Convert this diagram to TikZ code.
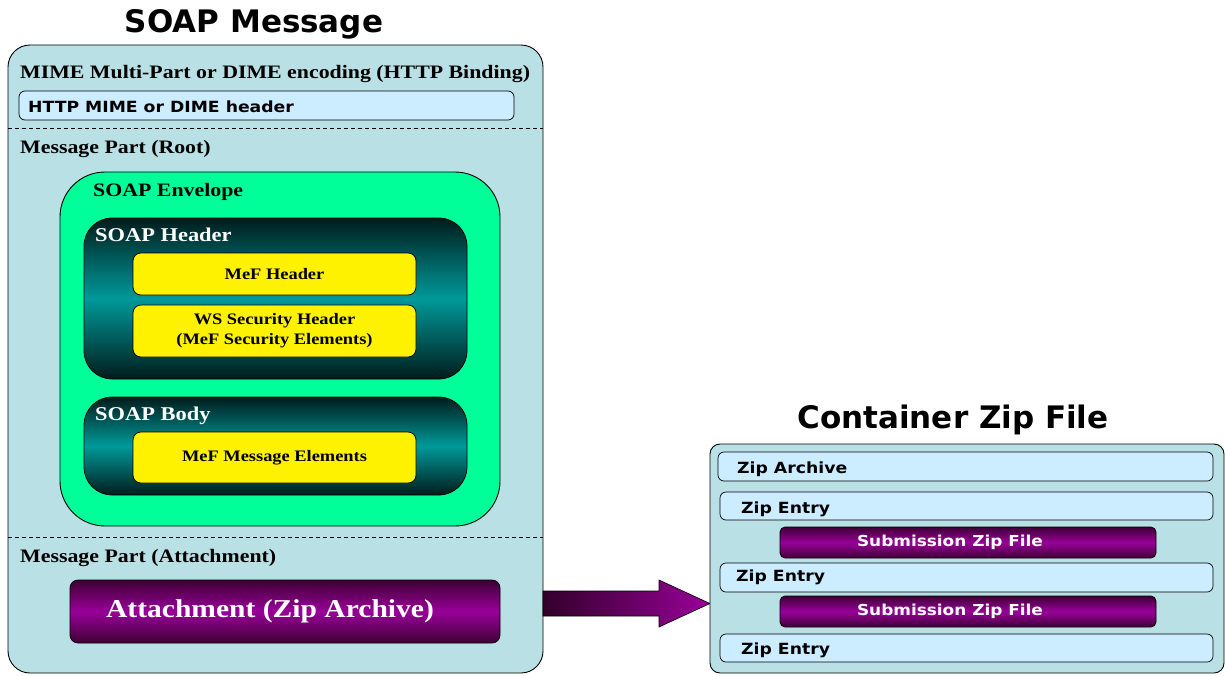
\documentclass[tikz,border=0pt]{standalone}
\usepackage{fontspec}
\setmainfont{Liberation Serif}[FakeStretch=1.15]
\setsansfont{DejaVu Sans}
\newfontfamily\smallsans{DejaVu Sans}[FakeStretch=1.12]
\definecolor{paleteal}{RGB}{185,224,228}
\definecolor{paleblue}{RGB}{204,236,255}
\definecolor{envgreen}{RGB}{0,255,153}
\definecolor{teal}{RGB}{0,153,153}
\definecolor{darkteal}{RGB}{0,28,28}
\definecolor{purp}{RGB}{153,0,153}
\definecolor{darkpurp}{RGB}{62,0,52}
\tikzset{
  outerbox/.style={draw=black, line width=0.9pt, fill=paleteal, rounded corners=22pt, inner sep=0pt},
  bluebar/.style={draw=black, line width=0.7pt, fill=paleblue, rounded corners=6pt, inner sep=0pt},
  envbox/.style={draw=black, line width=0.9pt, fill=envgreen, rounded corners=45pt, inner sep=0pt},
  tealbox/.style={draw=black, line width=0.7pt, top color=darkteal, bottom color=darkteal, middle color=teal, rounded corners=28pt, inner sep=0pt},
  yellowbox/.style={draw=black, line width=0.7pt, fill=yellow, rounded corners=8pt, inner sep=0pt, align=center, font=\fontsize{16}{20}\selectfont\bfseries},
  purpbox/.style={draw=black, line width=0.7pt, top color=darkpurp, bottom color=darkpurp, middle color=purp, rounded corners=8pt, inner sep=0pt, text=white},
  seriflabel/.style={anchor=base west, inner sep=0pt, font=\fontsize{19}{22}\selectfont\bfseries},
  whitelabel/.style={anchor=base west, inner sep=0pt, text=white, font=\fontsize{19.5}{22}\selectfont\bfseries},
  sanslabel/.style={anchor=west, inner sep=0pt, font=\smallsans\bfseries\fontsize{15.4}{18}\selectfont},
  titlelabel/.style={inner sep=0pt, font=\sffamily\bfseries\fontsize{31}{36}\selectfont},
  divider/.style={dashed, line width=0.8pt, dash pattern=on 4pt off 3pt},
}
\begin{document}
\begin{tikzpicture}[x=1pt,y=-1pt]
\useasboundingbox (0,0) rectangle (1225,675);
% ---------- left: SOAP message ----------
\node[titlelabel] (t1) at (254,24) {SOAP Message};
\node[outerbox, minimum width=535pt, minimum height=628pt] (outer) at (275.5,359) {};
\node[seriflabel] (mime) at (20,78) {MIME Multi-Part or DIME encoding (HTTP Binding)};
\node[bluebar, minimum width=495pt, minimum height=29pt] (http) at (266.5,105.5) {};
\node[sanslabel] (httpt) at (28,107) {HTTP MIME or DIME header};
\coordinate (d1a) at (8,128);
\coordinate (d1b) at (543,128);
\draw[divider] (d1a) -- (d1b);
\node[seriflabel] (root) at (20,153) {Message Part (Root)};
\node[envbox, minimum width=440pt, minimum height=354pt] (env) at (280,349) {};
\node[seriflabel] (envt) at (93,196) {SOAP Envelope};
\node[tealbox, minimum width=383pt, minimum height=161pt] (sh) at (275.5,298.5) {};
\node[whitelabel] (sht) at (95,241) {SOAP Header};
\node[yellowbox, minimum width=283pt, minimum height=42pt] (mefh) at (274.5,274) {MeF Header};
\node[yellowbox, minimum width=283pt, minimum height=52pt] (wss) at (274.5,331) {WS Security Header\\(MeF Security Elements)};
\node[tealbox, minimum width=383pt, minimum height=98pt] (sb) at (275.5,446) {};
\node[whitelabel] (sbt) at (95,420) {SOAP Body};
\node[yellowbox, minimum width=283pt, minimum height=51pt] (mefm) at (274.5,457.5) {MeF Message Elements};
\coordinate (d2a) at (8,537);
\coordinate (d2b) at (543,537);
\draw[divider] (d2a) -- (d2b);
\node[seriflabel] (att) at (20,562) {Message Part (Attachment)};
\node[purpbox, minimum width=430pt, minimum height=63pt, font=\fontsize{25.7}{30}\selectfont\bfseries] (attb) at (285,611.5) {\hspace*{-30pt}Attachment (Zip Archive)};
% ---------- arrow ----------
\coordinate (a0) at (543,591);
\coordinate (a1) at (659,591);
\coordinate (a2) at (659,580);
\coordinate (a3) at (710,603.5);
\coordinate (a4) at (659,627);
\coordinate (a5) at (659,616);
\coordinate (a6) at (543,616);
\draw[line width=0.6pt, left color=darkpurp!80!black, right color=purp] (a0) -- (a1) -- (a2) -- (a3) -- (a4) -- (a5) -- (a6) -- cycle;
% ---------- right: container zip ----------
\node[titlelabel] (t2) at (953,420) {Container Zip File};
\node[outerbox, rounded corners=10pt, minimum width=514pt, minimum height=229pt] (zip) at (967,558.5) {};
\node[bluebar, minimum width=495pt, minimum height=29pt] (za) at (965.5,466.5) {};
\node[sanslabel] (zat) at (737,469) {Zip Archive};
\node[bluebar, minimum width=493pt, minimum height=28pt] (ze1) at (966.5,506) {};
\node[sanslabel] (ze1t) at (741,509) {Zip Entry};
\node[purpbox, minimum width=376pt, minimum height=31pt, rounded corners=5pt, font=\smallsans\bfseries\fontsize{15.1}{17}\selectfont] (s1) at (968,542.5) {\hspace*{-36pt}Submission Zip File};
\node[bluebar, minimum width=493pt, minimum height=29pt] (ze2) at (966.5,577.5) {};
\node[sanslabel] (ze2t) at (736,577.5) {Zip Entry};
\node[purpbox, minimum width=376pt, minimum height=31pt, rounded corners=5pt, font=\smallsans\bfseries\fontsize{15.1}{17}\selectfont] (s2) at (968,611.5) {\hspace*{-36pt}Submission Zip File};
\node[bluebar, minimum width=493pt, minimum height=28pt] (ze3) at (966.5,648) {};
\node[sanslabel] (ze3t) at (741,650) {Zip Entry};
\end{tikzpicture}
\end{document}
